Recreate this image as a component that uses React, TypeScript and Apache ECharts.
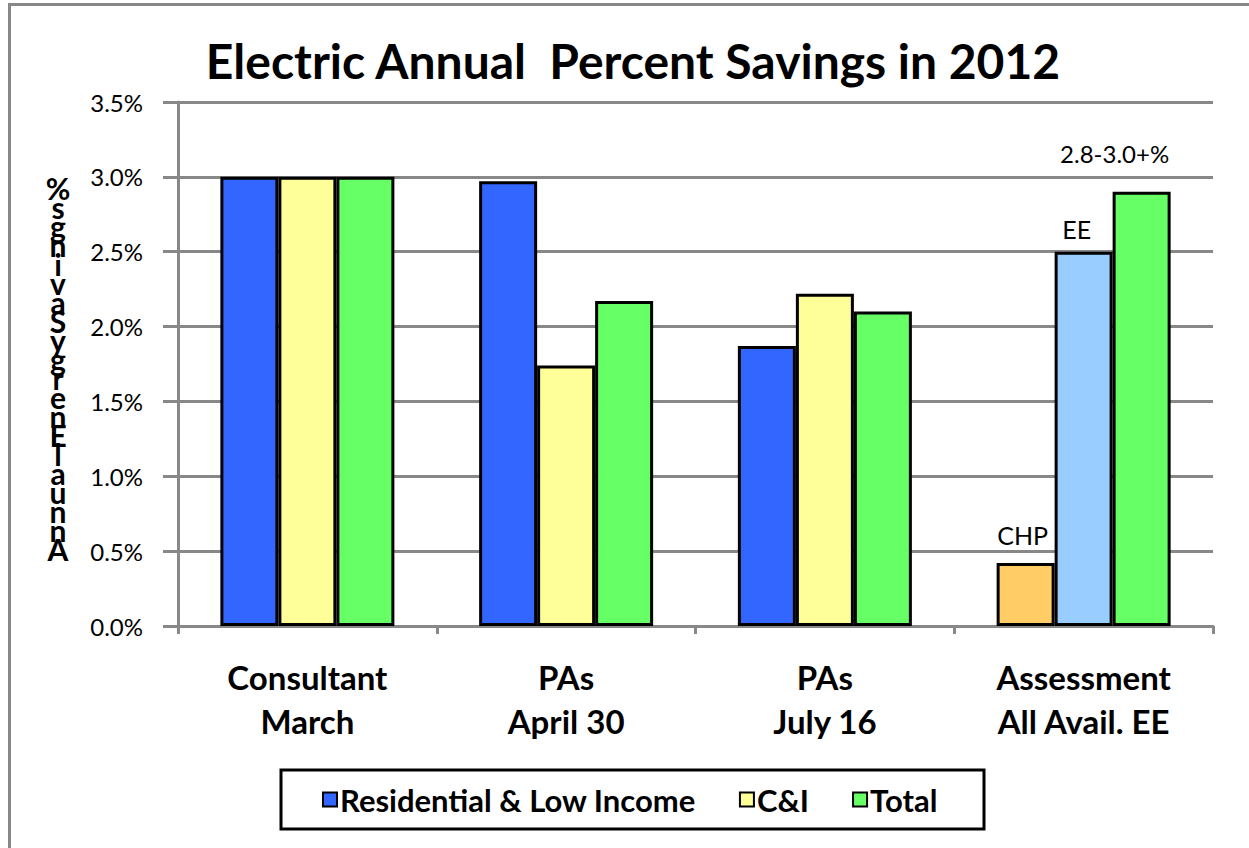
import React, { useEffect, useRef } from "react";
import * as echarts from "echarts";

const categories = ["Consultant\nMarch", "PAs\nApril 30", "PAs\nJuly 16", "Assessment\nAll Avail. EE"];
const residential = [3.0, 2.97, 1.87, 0.42];
const cni = [3.0, 1.74, 2.22, 2.5];
const total = [3.0, 2.17, 2.1, 2.9];
const seriesNames = ["Residential & Low Income", "C&I", "Total"];
const barLabels = ["CHP", "EE", "2.8-3.0+%"];
const yTitle = "Annual Energy Savings %";
const titleText = "Electric Annual  Percent Savings in 2012";

const FONT = "Lato, 'Open Sans', sans-serif";

export default function App() {
  const ref = useRef<HTMLDivElement>(null);
  useEffect(() => {
    if (!ref.current) return;
    const chart = echarts.init(ref.current, null, { renderer: "svg" });
    const border = { borderColor: "#000", borderWidth: 3 };
    const labelStyle = { show: true, position: "top", color: "#000", fontSize: 25, fontFamily: FONT };
    const resData = residential.map((v, i) =>
      i === 3
        ? { value: v, itemStyle: { color: "#FFCC66", ...border }, label: { ...labelStyle, formatter: barLabels[0], distance: 16, offset: [-3, 0] } }
        : v
    );
    const ciData = cni.map((v, i) =>
      i === 3
        ? { value: v, itemStyle: { color: "#99CCFF", ...border }, label: { ...labelStyle, formatter: barLabels[1], distance: 10, offset: [-7, 0] } }
        : v
    );
    const totData = total.map((v, i) =>
      i === 3
        ? { value: v, label: { ...labelStyle, formatter: barLabels[2], fontSize: 24, distance: 26, offset: [-27, 0] } }
        : v
    );
    const yChars = yTitle.replace(/ /g, "").split("").reverse().join("\n");
    chart.setOption({
      animation: false,
      backgroundColor: "#fff",
      textStyle: { fontFamily: FONT },
      title: {
        text: titleText,
        left: 628,
        textAlign: "center",
        top: 31,
        textStyle: { fontSize: 48, fontWeight: "bold", color: "#000", fontFamily: FONT },
      },
      grid: { left: 178, right: 36, top: 102, bottom: 222, containLabel: false },
      legend: {
        data: seriesNames,
        left: 322,
        top: 784,
        itemWidth: 14,
        itemHeight: 14,
        itemGap: 43,
        icon: "rect",
        itemStyle: { borderColor: "#000", borderWidth: 2 },
        textStyle: { fontSize: 31, fontWeight: "bold", color: "#000", fontFamily: FONT, padding: [0, 0, 0, -2] },
        padding: 0,
      },
      xAxis: {
        type: "category",
        data: categories,
        axisLine: { lineStyle: { color: "#888", width: 3 } },
        axisTick: { show: true, length: 8, lineStyle: { color: "#888", width: 3 } },
        axisLabel: { fontSize: 33, fontWeight: "bold", color: "#000", lineHeight: 44, margin: 29, fontFamily: FONT },
      },
      yAxis: {
        type: "value",
        min: 0,
        max: 3.5,
        interval: 0.5,
        axisLine: { show: true, lineStyle: { color: "#888", width: 3 } },
        axisTick: { show: true, length: 15, lineStyle: { color: "#888", width: 3 } },
        splitLine: { lineStyle: { color: "#888", width: 3 } },
        axisLabel: { fontSize: 24, color: "#000", margin: 35, formatter: (v: number) => v.toFixed(1) + "%", fontFamily: FONT },
      },
      graphic: [
        { type: "line", shape: { x1: 8, y1: 4.5, x2: 1249, y2: 4.5 }, style: { stroke: "#888", lineWidth: 3 } },
        { type: "line", shape: { x1: 9.5, y1: 3, x2: 9.5, y2: 848 }, style: { stroke: "#888", lineWidth: 3 } },
        { type: "rect", shape: { x: 281, y: 770, width: 703, height: 59 }, style: { fill: "none", stroke: "#000", lineWidth: 3 }, z: 10 },
        {
          type: "text",
          x: 58,
          y: 178.5,
          style: { text: yChars, fontSize: 30, fontWeight: "bold", fontFamily: FONT, fill: "#000", lineHeight: 19, align: "center", verticalAlign: "top" },
        },
      ],
      series: [
        { name: seriesNames[0], type: "bar", data: resData, barWidth: 58, barGap: "0%", itemStyle: { color: "#3366FF", ...border } },
        { name: seriesNames[1], type: "bar", data: ciData, barWidth: 58, barGap: "0%", itemStyle: { color: "#FFFF99", ...border } },
        { name: seriesNames[2], type: "bar", data: totData, barWidth: 58, barGap: "0%", itemStyle: { color: "#66FF66", ...border } },
      ],
    });
    return () => chart.dispose();
  }, []);
  return <div ref={ref} style={{ position: "fixed", left: 0, top: 0, width: 1249, height: 848 }} />;
}
